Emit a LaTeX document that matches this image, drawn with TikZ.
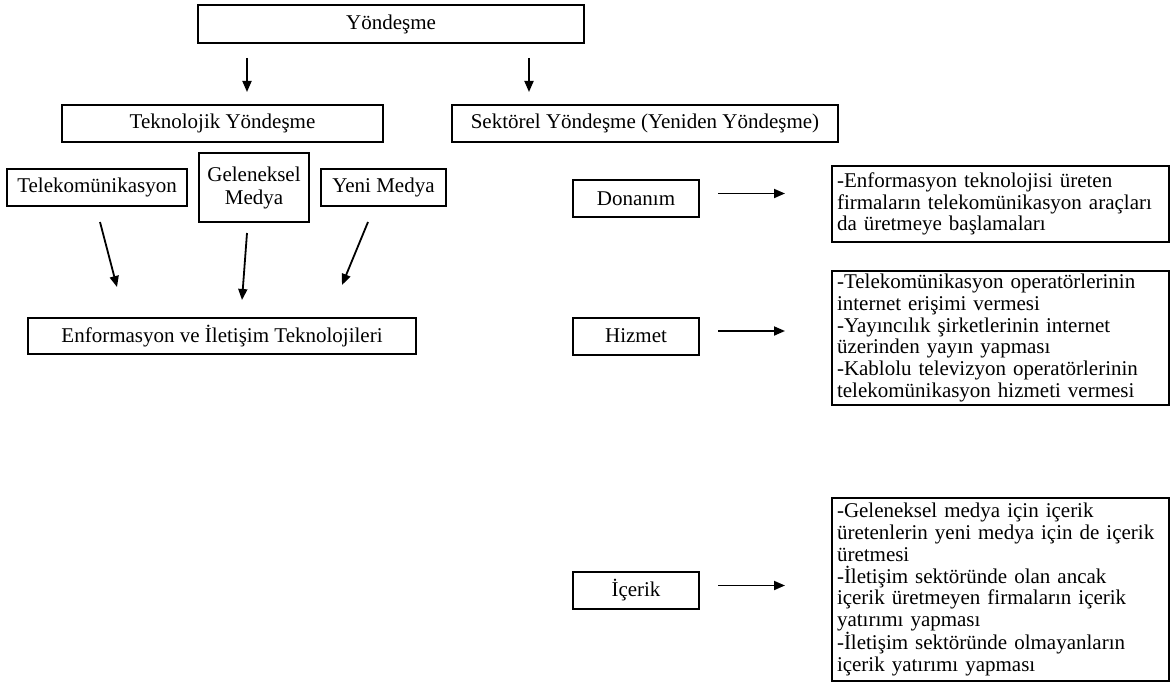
\documentclass[tikz,border=0pt]{standalone}
\usepackage{fontspec}
\setmainfont{Liberation Serif}
\usetikzlibrary{arrows.meta}
\begin{document}
\begin{tikzpicture}[x=1pt,y=-1pt,
  box/.style={draw, line width=2pt, inner sep=0pt, align=center, font=\fontsize{21}{23}\selectfont},
  txtbox/.style={draw, line width=2pt, anchor=north west, inner xsep=5pt, inner ysep=0pt,
                 text width=327pt, align=left, font=\fontsize{21}{21.7}\selectfont},
  arr/.style={line width=1.8pt, -{Triangle[length=11pt,width=9pt]}}]
\useasboundingbox (0,0) rectangle (1171,693);
% left / top part
\node[box, minimum width=386pt, minimum height=38pt] (yon) at (391,24) {Yöndeşme};
\node[box, minimum width=321pt, minimum height=37pt] (tek) at (222.5,123.5) {Teknolojik Yöndeşme};
\node[box, minimum width=386pt, minimum height=37pt] (sek) at (645,123.5) {Sektörel Yöndeşme (Yeniden Yöndeşme)};
\node[box, minimum width=180pt, minimum height=37pt] (tel) at (97,187.5) {Telekomünikasyon};
\node[box, minimum width=110pt, minimum height=69pt] (gel) at (254,187.5) {Geleneksel\\Medya};
\node[box, minimum width=125pt, minimum height=37pt] (yeni) at (383.5,187.5) {Yeni Medya};
\node[box, minimum width=388pt, minimum height=36pt] (enf) at (222,336) {Enformasyon ve İletişim Teknolojileri};
% right part
\node[box, minimum width=126pt, minimum height=37pt] (don) at (636,198.5) {Donanım};
\node[box, minimum width=126pt, minimum height=37pt] (hiz) at (636,336) {Hizmet};
\node[box, minimum width=126pt, minimum height=37pt] (ice) at (636,590.5) {İçerik};
\node[txtbox, minimum height=76pt] (r1) at (831,165) {-Enformasyon teknolojisi üreten\\firmaların telekomünikasyon araçları\\da üretmeye başlamaları};
\node[txtbox, minimum height=134pt] (r2) at (831,270) {-Telekomünikasyon operatörlerinin\\internet erişimi vermesi\\-Yayıncılık şirketlerinin internet\\üzerinden yayın yapması\\-Kablolu televizyon operatörlerinin\\telekomünikasyon hizmeti vermesi};
\node[txtbox, minimum height=183pt] (r3) at (831,497) {-Geleneksel medya için içerik\\üretenlerin yeni medya için de içerik\\üretmesi\\-İletişim sektöründe olan ancak\\içerik üretmeyen firmaların içerik\\yatırımı yapması\\-İletişim sektöründe olmayanların\\içerik yatırımı yapması};
% top arrows
\path ([xshift=50pt]yon.south west) coordinate (ya);
\path ([xshift=-56pt]yon.south east) coordinate (yb);
\draw[arr, shorten <=14pt, shorten >=12pt] (ya) -- (ya |- tek.north);
\draw[arr, shorten <=14pt, shorten >=12pt] (yb) -- (yb |- sek.north);
% slanted arrows into Enformasyon
\coordinate (t1) at (100,222);
\coordinate (t2) at (117,287);
\coordinate (g1) at (247,233);
\coordinate (g2) at (242,300);
\coordinate (n1) at (368,222);
\coordinate (n2) at (342,285);
\draw[arr] (t1) -- (t2);
\draw[arr] (g1) -- (g2);
\draw[arr] (n1) -- (n2);
% horizontal arrows
\path ([yshift=5pt]don.east) coordinate (d1);
\path ([yshift=5pt]hiz.east) coordinate (h1);
\path ([yshift=5pt]ice.east) coordinate (i1);
\draw[arr, shorten <=18pt, shorten >=46pt] (d1) -- (d1 -| r1.west);
\draw[arr, shorten <=18pt, shorten >=46pt] (h1) -- (h1 -| r2.west);
\draw[arr, shorten <=18pt, shorten >=46pt] (i1) -- (i1 -| r3.west);
\end{tikzpicture}
\end{document}
